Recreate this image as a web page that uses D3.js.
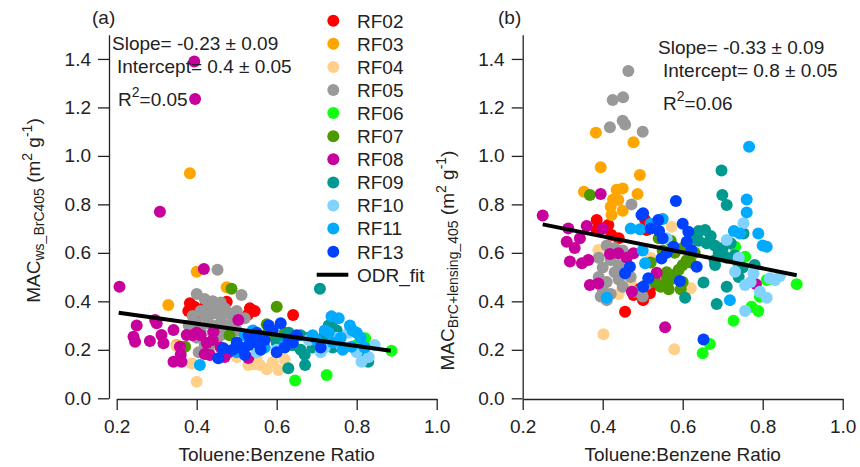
<!DOCTYPE html>
<html>
<head>
<meta charset="utf-8">
<script src="https://cdn.jsdelivr.net/npm/d3@7"></script>
<style>
  html, body { margin: 0; padding: 0; background: #fff; }
  svg { display: block; font-family: "Liberation Sans", Arial, sans-serif; }
</style>
</head>
<body>
<svg id="chart" width="860" height="467"></svg>
<script>
// Flights and their marker colours
const categories = ["RF02", "RF03", "RF04", "RF05", "RF06", "RF07", "RF08", "RF09", "RF10", "RF11", "RF13"];
const colors = ["#ff0000", "#ffa500", "#ffd08a", "#999999", "#11ff11", "#4c9a00", "#c8009c", "#009990", "#82d2ff", "#00aaff", "#0040ff"];

// Axis ticks
const xTicks = [0.2, 0.4, 0.6, 0.8, 1.0];
const yTicks = [0.0, 0.2, 0.4, 0.6, 0.8, 1.0, 1.2, 1.4];

// ODR fit results for (a) and (b)
const slopes = [-0.23, -0.33];
const slopeErrs = [0.09, 0.09];
const intercepts = [0.4, 0.8];
const interceptErrs = [0.05, 0.05];
const rSquared = [0.05, 0.06];
const fitRanges = [[0.205, 0.885], [0.25, 0.885]];

// (a) MAC_ws_BrC405 vs toluene:benzene ratio, [ratio, MAC]
const a_RF02 = [[0.383,0.392],[0.379,0.36],[0.394,0.378],[0.40,0.35],[0.475,0.398],[0.468,0.38],[0.533,0.371],[0.528,0.345],[0.545,0.36],[0.641,0.344],[0.49,0.33],[0.42,0.38],[0.50,0.345]];
const a_RF03 = [[0.383,0.928],[0.40,0.522],[0.329,0.385],[0.475,0.458],[0.35,0.22],[0.467,0.337],[0.48,0.32],[0.485,0.35]];
const a_RF04 = [[0.40,0.068],[0.388,0.144],[0.529,0.137],[0.543,0.14],[0.558,0.137],[0.575,0.12],[0.604,0.117],[0.59,0.15],[0.62,0.16],[0.55,0.17],[0.35,0.215],[0.50,0.17]];
const a_RF05 = [[0.452,0.53],[0.40,0.43],[0.512,0.426],[0.42,0.41],[0.44,0.40],[0.46,0.395],[0.43,0.38],[0.45,0.37],[0.47,0.37],[0.41,0.36],[0.39,0.34],[0.42,0.34],[0.44,0.35],[0.46,0.34],[0.48,0.35],[0.50,0.36],[0.52,0.33],[0.40,0.31],[0.43,0.31],[0.45,0.30],[0.47,0.30],[0.49,0.31],[0.41,0.28],[0.44,0.27],[0.46,0.26],[0.40,0.25],[0.42,0.22],[0.45,0.23],[0.43,0.20],[0.48,0.27],[0.50,0.28],[0.38,0.30],[0.405,0.19]];
const a_RF06 = [[0.887,0.196],[0.646,0.073],[0.725,0.096],[0.821,0.248],[0.74,0.27],[0.80,0.22]];
const a_RF07 = [[0.487,0.452],[0.60,0.378],[0.482,0.26],[0.371,0.213],[0.575,0.305],[0.583,0.26],[0.60,0.24],[0.62,0.27],[0.56,0.25],[0.64,0.22],[0.58,0.28]];
const a_RF08 = [[0.394,1.389],[0.396,1.235],[0.308,0.77],[0.207,0.46],[0.418,0.533],[0.25,0.30],[0.242,0.254],[0.246,0.233],[0.283,0.236],[0.296,0.323],[0.312,0.261],[0.317,0.227],[0.342,0.282],[0.342,0.151],[0.362,0.151],[0.358,0.213],[0.375,0.261],[0.40,0.27],[0.42,0.183],[0.433,0.179],[0.425,0.228],[0.442,0.275],[0.504,0.323],[0.529,0.166],[0.36,0.18],[0.39,0.26],[0.46,0.21],[0.47,0.17],[0.30,0.31],[0.41,0.26],[0.44,0.24],[0.48,0.19]];
const a_RF09 = [[0.708,0.452],[0.742,0.323],[0.629,0.124],[0.671,0.137],[0.829,0.151],[0.82,0.18],[0.66,0.26],[0.68,0.25],[0.70,0.24],[0.72,0.26],[0.64,0.22],[0.66,0.20],[0.69,0.21],[0.71,0.22],[0.62,0.25],[0.60,0.23],[0.74,0.21],[0.67,0.18],[0.73,0.30],[0.75,0.28],[0.56,0.22],[0.63,0.27]];
const a_RF10 = [[0.812,0.151],[0.845,0.22],[0.71,0.19],[0.75,0.25],[0.78,0.27],[0.72,0.21],[0.80,0.19],[0.76,0.22],[0.83,0.17],[0.60,0.20],[0.55,0.19],[0.68,0.24]];
const a_RF11 = [[0.408,0.137],[0.737,0.338],[0.755,0.33],[0.783,0.30],[0.79,0.28],[0.72,0.28],[0.80,0.27],[0.73,0.27],[0.76,0.25],[0.70,0.24],[0.765,0.20],[0.787,0.213],[0.74,0.23],[0.81,0.25],[0.54,0.28],[0.52,0.26],[0.50,0.19],[0.57,0.21],[0.62,0.22],[0.69,0.26],[0.82,0.21]];
const a_RF13 = [[0.467,0.206],[0.454,0.165],[0.50,0.23],[0.51,0.21],[0.53,0.22],[0.54,0.25],[0.55,0.23],[0.56,0.20],[0.58,0.30],[0.59,0.28],[0.61,0.31],[0.60,0.19],[0.62,0.21],[0.64,0.23],[0.65,0.26],[0.71,0.21],[0.52,0.18],[0.57,0.24],[0.49,0.20],[0.53,0.26],[0.63,0.24],[0.55,0.27]];

// (b) MAC_BrC+lensing_405 vs toluene:benzene ratio, [ratio, MAC]
const b_RF02 = [[0.385,0.736],[0.414,0.715],[0.385,0.694],[0.40,0.70],[0.422,0.674],[0.506,0.736],[0.51,0.694],[0.456,0.357],[0.477,0.426],[0.501,0.405],[0.518,0.433],[0.527,0.467],[0.49,0.45],[0.44,0.66],[0.53,0.49]];
const b_RF03 = [[0.383,1.096],[0.477,1.056],[0.395,0.953],[0.493,0.921],[0.353,0.852],[0.435,0.86],[0.45,0.866],[0.426,0.82],[0.439,0.818],[0.487,0.843],[0.422,0.756],[0.45,0.774],[0.42,0.79]];
const b_RF04 = [[0.389,0.612],[0.402,0.264],[0.579,0.202],[0.572,0.708],[0.62,0.454],[0.46,0.467],[0.47,0.48],[0.52,0.58],[0.44,0.43]];
const b_RF05 = [[0.464,1.35],[0.425,1.231],[0.451,1.242],[0.45,1.145],[0.456,1.13],[0.418,1.118],[0.50,1.10],[0.472,0.80],[0.41,0.63],[0.43,0.62],[0.45,0.61],[0.39,0.58],[0.42,0.57],[0.44,0.55],[0.40,0.54],[0.43,0.52],[0.46,0.53],[0.39,0.50],[0.41,0.48],[0.44,0.49],[0.40,0.45],[0.42,0.43],[0.45,0.46],[0.395,0.42],[0.41,0.405],[0.47,0.50],[0.48,0.44],[0.50,0.42],[0.51,0.47]];
const b_RF06 = [[0.885,0.471],[0.731,0.625],[0.756,0.584],[0.772,0.378],[0.789,0.36],[0.727,0.32],[0.65,0.186],[0.668,0.224],[0.81,0.488],[0.793,0.419],[0.74,0.55],[0.70,0.60]];
const b_RF07 = [[0.368,0.839],[0.545,0.46],[0.555,0.47],[0.565,0.45],[0.57,0.49],[0.58,0.51],[0.56,0.52],[0.59,0.53],[0.60,0.55],[0.61,0.57],[0.62,0.56],[0.58,0.60],[0.60,0.62],[0.55,0.61],[0.57,0.65],[0.54,0.66],[0.61,0.64],[0.56,0.50],[0.53,0.48],[0.60,0.48],[0.595,0.45],[0.52,0.56],[0.63,0.60]];
const b_RF08 = [[0.25,0.754],[0.314,0.701],[0.36,0.711],[0.31,0.646],[0.343,0.66],[0.318,0.564],[0.348,0.557],[0.364,0.571],[0.395,0.843],[0.368,0.467],[0.389,0.474],[0.418,0.595],[0.439,0.598],[0.46,0.58],[0.477,0.598],[0.473,0.44],[0.535,0.518],[0.556,0.293],[0.783,0.471],[0.33,0.62],[0.40,0.70]];
const b_RF09 = [[0.697,0.94],[0.699,0.839],[0.71,0.797],[0.752,0.68],[0.64,0.69],[0.656,0.694],[0.62,0.68],[0.67,0.67],[0.64,0.65],[0.66,0.64],[0.68,0.63],[0.70,0.62],[0.69,0.60],[0.71,0.58],[0.73,0.59],[0.75,0.54],[0.681,0.55],[0.652,0.478],[0.606,0.415],[0.685,0.389],[0.71,0.46],[0.68,0.57],[0.63,0.66],[0.72,0.64],[0.74,0.50],[0.78,0.55]];
const b_RF10 = [[0.752,0.722],[0.71,0.653],[0.731,0.522],[0.777,0.516],[0.756,0.467],[0.818,0.495],[0.843,0.505],[0.793,0.44],[0.81,0.415],[0.756,0.36],[0.831,0.488],[0.77,0.48],[0.56,0.66],[0.74,0.58]];
const b_RF11 = [[0.766,1.038],[0.76,0.82],[0.76,0.767],[0.743,0.68],[0.728,0.69],[0.789,0.68],[0.80,0.63],[0.81,0.625],[0.718,0.405],[0.493,0.697],[0.41,0.415],[0.506,0.557],[0.52,0.72],[0.55,0.74],[0.47,0.70],[0.50,0.61]];
const b_RF13 = [[0.583,0.814],[0.497,0.756],[0.501,0.763],[0.539,0.736],[0.541,0.69],[0.614,0.687],[0.61,0.646],[0.622,0.612],[0.547,0.577],[0.56,0.60],[0.635,0.543],[0.593,0.484],[0.652,0.243],[0.468,0.543],[0.456,0.516],[0.501,0.46],[0.514,0.495],[0.577,0.625],[0.55,0.66],[0.52,0.70],[0.60,0.72]];

const seriesA = [a_RF02, a_RF03, a_RF04, a_RF05, a_RF06, a_RF07, a_RF08, a_RF09, a_RF10, a_RF11, a_RF13];
const seriesB = [b_RF02, b_RF03, b_RF04, b_RF05, b_RF06, b_RF07, b_RF08, b_RF09, b_RF10, b_RF11, b_RF13];

const svg = d3.select("#chart");
const FONT = 19;
const INK = "#222";
const R = 6;

// two-decimal format with an ASCII hyphen for negatives
const fmt2 = v => d3.format(".2f")(v).replace("\u2212", "-");

const yScale = d3.scaleLinear().domain([0, 1.5]).range([398.3, 34.7]);

const panels = [
  { series: seriesA, yAxisX: 109, xRange: [116.7, 436.7], tag: "(a)", tagPos: [92, 24],
    sub: "ws_BrC405", ylabelPos: [39.5, 210.5],
    notePos: [[112, 50], [117, 73], [118, 106]] },
  { series: seriesB, yAxisX: 522.7, xRange: [522.7, 842.7], tag: "(b)", tagPos: [498, 24],
    sub: "BrC+lensing_405", ylabelPos: [453.5, 260.5],
    notePos: [[658, 54], [663, 77], [663, 110]] }
];

panels.forEach((p, pi) => {
  const x = d3.scaleLinear().domain([0.2, 1.0]).range(p.xRange);
  const g = svg.append("g");

  // y axis
  const yAxis = d3.axisLeft(yScale).tickValues(yTicks).tickFormat(d3.format(".1f"))
    .tickSize(11).tickSizeOuter(0).tickPadding(7);
  const gy = g.append("g").attr("transform", `translate(${p.yAxisX},0)`).call(yAxis);

  // x axis
  const xAxis = d3.axisBottom(x).tickValues(xTicks).tickFormat(d3.format(".1f"))
    .tickSize(11).tickSizeOuter(0).tickPadding(10);
  const gx = g.append("g").attr("transform", `translate(0,${yScale(0) + 0.7})`).call(xAxis);

  [gx, gy].forEach(ax => {
    ax.selectAll("path, line").attr("stroke", INK).attr("stroke-width", 1.3);
    ax.selectAll("text").attr("fill", INK).style("font-size", FONT + "px")
      .style("font-family", "'Liberation Sans', Arial, sans-serif");
  });

  // x axis title
  g.append("text")
    .attr("x", x(0.6)).attr("y", 461)
    .attr("text-anchor", "middle").attr("fill", INK).style("font-size", FONT + "px")
    .text("Toluene:Benzene Ratio");

  // y axis title with subscript and superscripts
  const yl = g.append("text")
    .attr("transform", `translate(${p.ylabelPos[0]},${p.ylabelPos[1]}) rotate(-90)`)
    .attr("text-anchor", "middle").attr("fill", INK).style("font-size", FONT + "px");
  yl.append("tspan").text("MAC");
  yl.append("tspan").attr("dy", 4).style("font-size", "14px").text(p.sub);
  yl.append("tspan").attr("dy", -4).text(" (m");
  yl.append("tspan").attr("dy", -8).style("font-size", "14px").text("2");
  yl.append("tspan").attr("dy", 8).text(" g");
  yl.append("tspan").attr("dy", -8).style("font-size", "14px").text("-1");
  yl.append("tspan").attr("dy", 8).text(")");

  // panel tag
  g.append("text").attr("x", p.tagPos[0]).attr("y", p.tagPos[1])
    .attr("fill", INK).style("font-size", FONT + "px").text(p.tag);

  // scatter points, one group per flight
  p.series.forEach((pts, si) => {
    g.append("g").selectAll("circle").data(pts).join("circle")
      .attr("cx", d => x(d[0])).attr("cy", d => yScale(d[1]))
      .attr("r", R).attr("fill", colors[si]);
  });

  // ODR fit line
  const fit = d => intercepts[pi] + slopes[pi] * d;
  g.append("line")
    .attr("x1", x(fitRanges[pi][0])).attr("y1", yScale(fit(fitRanges[pi][0])))
    .attr("x2", x(fitRanges[pi][1])).attr("y2", yScale(fit(fitRanges[pi][1])))
    .attr("stroke", "#000").attr("stroke-width", 4);

  // fit statistics
  g.append("text").attr("x", p.notePos[0][0]).attr("y", p.notePos[0][1])
    .attr("fill", INK).style("font-size", FONT + "px")
    .text(`Slope= ${fmt2(slopes[pi])} \u00b1 ${fmt2(slopeErrs[pi])}`);
  g.append("text").attr("x", p.notePos[1][0]).attr("y", p.notePos[1][1])
    .attr("fill", INK).style("font-size", FONT + "px")
    .text(`Intercept= ${intercepts[pi]} \u00b1 ${fmt2(interceptErrs[pi])}`);
  const r2 = g.append("text").attr("x", p.notePos[2][0]).attr("y", p.notePos[2][1])
    .attr("fill", INK).style("font-size", FONT + "px");
  r2.append("tspan").text("R");
  r2.append("tspan").attr("dy", -9).style("font-size", "14px").text("2");
  r2.append("tspan").attr("dy", 9).text(`=${fmt2(rSquared[pi])}`);
});

// legend
const legend = svg.append("g");
const legY = i => 20.7 + i * 23.1;
categories.forEach((c, i) => {
  legend.append("circle").attr("cx", 333.3).attr("cy", legY(i)).attr("r", R).attr("fill", colors[i]);
  legend.append("text").attr("x", 357).attr("y", legY(i) + 6.8)
    .attr("fill", INK).style("font-size", FONT + "px").text(c);
});
const li = categories.length;
legend.append("line").attr("x1", 316.7).attr("x2", 348.3).attr("y1", legY(li)).attr("y2", legY(li))
  .attr("stroke", "#000").attr("stroke-width", 4);
legend.append("text").attr("x", 357).attr("y", legY(li) + 6.8)
  .attr("fill", INK).style("font-size", FONT + "px").text("ODR_fit");
</script>
</body>
</html>
